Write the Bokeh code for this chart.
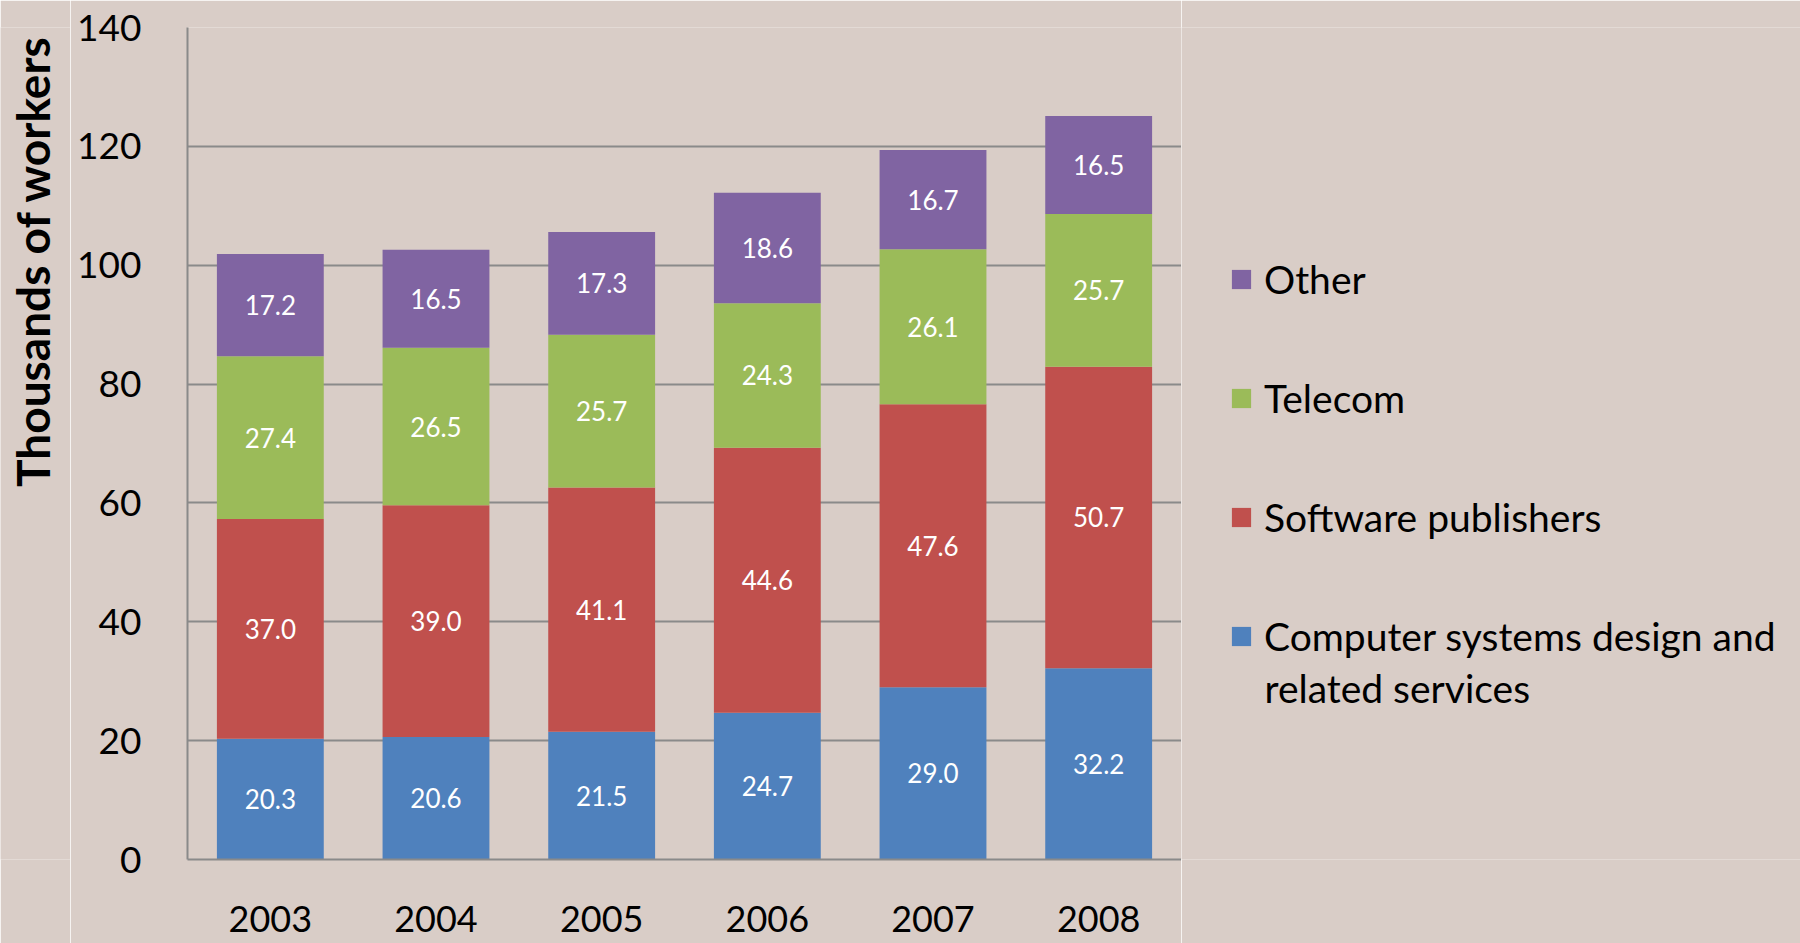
import math
from bokeh.plotting import figure
from bokeh.layouts import row
from bokeh.models import ColumnDataSource, Legend, LegendItem, Label, LabelSet, FixedTicker
from bokeh.core.properties import value
from bokeh.embed import file_html
from bokeh.resources import INLINE

years = ["2003", "2004", "2005", "2006", "2007", "2008"]
computer = [20.3, 20.6, 21.5, 24.7, 29.0, 32.2]
software = [37.0, 39.0, 41.1, 44.6, 47.6, 50.7]
telecom = [27.4, 26.5, 25.7, 24.3, 26.1, 25.7]
other = [17.2, 16.5, 17.3, 18.6, 16.7, 16.5]
y_ticks = [0, 20, 40, 60, 80, 100, 120, 140]

series = ["computer", "software", "telecom", "other"]
names = ["Computer systems design and", "Software publishers", "Telecom", "Other"]
name_cont = "related services"
colors = ["#4F81BD", "#C0504D", "#9BBB59", "#8064A2"]
values = [computer, software, telecom, other]

data = {"years": years}
for s, v in zip(series, values):
    data[s] = v
source = ColumnDataSource(data)

FONT = "Lato"
BG = "#d9cdc7"
H = 943
TOP, BOTTOM = 27, 84          # borders shared by all three panels
FRAME_H = H - TOP - BOTTOM


def bare(fig):
    fig.background_fill_color = BG
    fig.border_fill_color = BG
    fig.outline_line_color = None
    fig.xgrid.grid_line_color = None
    fig.ygrid.grid_line_color = None


# ---- left strip holding the rotated axis title ----
tf = figure(width=70, height=H, output_backend="svg", toolbar_location=None,
            x_axis_location=None, y_axis_location=None,
            min_border_left=0, min_border_right=0, min_border_top=TOP, min_border_bottom=BOTTOM)
bare(tf)
tf.add_layout(Label(x=32, y=FRAME_H - 8, x_units="screen", y_units="screen",
                    text="Thousands of workers", angle=math.pi / 2,
                    text_align="right", text_baseline="middle",
                    text_font=FONT, text_font_size="46px", text_font_style="bold",
                    text_color="black"))

# ---- main chart ----
p = figure(x_range=years, y_range=(0, 140), width=1111, height=H,
           output_backend="svg", toolbar_location=None,
           min_border_left=117, min_border_right=0, min_border_top=TOP, min_border_bottom=BOTTOM)
p.background_fill_color = BG
p.border_fill_color = BG
p.outline_line_color = None

p.vbar_stack(series, x="years", width=0.645, color=colors, source=source, line_color=None)

# data labels at the middle of each stacked segment
base = [0.0] * len(years)
for s, v in zip(series, values):
    mids = [b + x / 2 for b, x in zip(base, v)]
    base = [b + x for b, x in zip(base, v)]
    lsrc = ColumnDataSource({"years": years, "y": mids, "t": ["%.1f" % x for x in v]})
    p.add_layout(LabelSet(x="years", y="y", text="t", source=lsrc, text_align="center",
                          text_baseline="middle", text_color="white", text_font=value(FONT),
                          text_font_size="26px"))

p.xgrid.grid_line_color = None
p.ygrid.grid_line_color = "#8a8a8a"
p.ygrid.grid_line_width = 2
p.ygrid.ticker = FixedTicker(ticks=y_ticks)
p.yaxis.ticker = FixedTicker(ticks=y_ticks)

p.yaxis.axis_line_color = "#8a8a8a"
p.yaxis.axis_line_width = 2
p.yaxis.major_tick_line_color = None
p.yaxis.minor_tick_line_color = None
p.yaxis.major_label_standoff = 40
p.yaxis.major_label_text_font = FONT
p.yaxis.major_label_text_font_size = "37px"
p.yaxis.major_label_text_color = "black"

p.xaxis.axis_line_color = "#8a8a8a"
p.xaxis.axis_line_width = 2
p.xaxis.major_tick_line_color = None
p.xaxis.minor_tick_line_color = None
p.xaxis.major_label_standoff = 40
p.xaxis.major_label_text_font = FONT
p.xaxis.major_label_text_font_size = "36px"
p.xaxis.major_label_text_color = "black"

# ---- legend panel on the right ----
lg = figure(x_range=years, y_range=(0, 140), width=619, height=H,
            output_backend="svg", toolbar_location=None,
            x_axis_location=None, y_axis_location=None,
            min_border_left=0, min_border_right=0, min_border_top=TOP, min_border_bottom=BOTTOM)
bare(lg)

lrs = lg.vbar_stack(series, x="years", width=0.645, color=colors, source=source, line_color=None)
for r in lrs:
    r.visible = False
items = [LegendItem(label=n, renderers=[r]) for n, r in zip(names, lrs)]
items = items[::-1]
legend = Legend(items=items, location=(48, 200), orientation="vertical",
                background_fill_alpha=0, border_line_color=None,
                label_text_font=FONT, label_text_font_size="39px", label_text_color="black",
                glyph_width=24, glyph_height=24, label_standoff=11, label_height=47,
                spacing=72, padding=0, margin=0, click_policy="none")
lg.add_layout(legend)
lg.add_layout(Label(x=83, y=172, x_units="screen", y_units="screen", text=name_cont,
                    text_align="left", text_baseline="middle", text_font=FONT,
                    text_font_size="39px", text_color="black"))

open("out.html", "w").write(file_html(row(tf, p, lg), INLINE))
